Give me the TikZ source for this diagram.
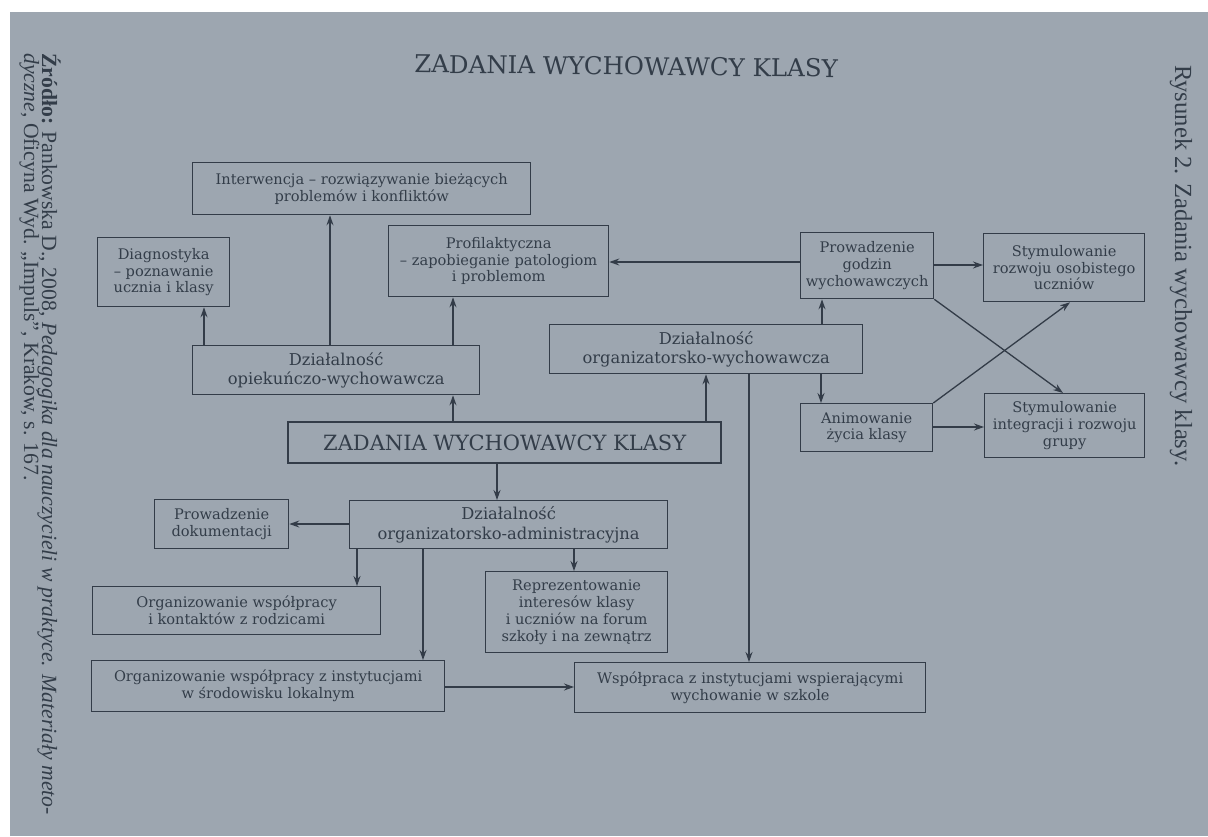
\documentclass[tikz,border=0pt]{standalone}
\usepackage{fontspec}
\setmainfont{DejaVu Serif}
\newfontfamily\sidefont{Liberation Serif}
\usetikzlibrary{arrows.meta}
\definecolor{pagec}{HTML}{9DA6B0}
\definecolor{linec}{HTML}{333C48}
\definecolor{txtc}{HTML}{333D49}
\tikzset{
  box/.style={draw=linec, line width=1.3pt, text=txtc, align=center, inner sep=0pt, anchor=north west,
    font=\fontsize{14.6}{16.8}\selectfont},
  bigbox/.style={box, font=\fontsize{16.3}{19.5}\selectfont},
  arr/.style={draw=linec, line width=1.3pt, -{Stealth[length=10pt,width=7pt]}},
  ln/.style={draw=linec, line width=1.3pt},
  side/.style={text=txtc, inner sep=0pt, rotate=-90, anchor=base west},
}
\begin{document}
\begin{tikzpicture}[x=1pt,y=-1pt]
\useasboundingbox (0,0) rectangle (1208,836);
\fill[white] (0,0) rectangle (1208,836);
\fill[pagec] (10,12) rectangle (1208,836);

% title
\node[text=txtc, inner sep=0pt, anchor=base, rotate=-0.6, font=\fontsize{24.5}{27}\selectfont] (title) at (626,75) {ZADANIA WYCHOWAWCY KLASY};

% side texts
\node[side, font=\sidefont\fontsize{21.7}{23}\selectfont] (src1) at (42,53) {\textbf{Źródło:} Pankowska D., 2008, \textit{Pedagogika dla nauczycieli w praktyce. Materiały meto-}};
\node[side, font=\sidefont\fontsize{21.7}{23}\selectfont] (src2) at (24,53) {\textit{dyczne}, Oficyna Wyd. „Impuls”, Kraków, s. 167.};
\node[side, font=\sidefont\fontsize{24.6}{27}\selectfont] (rys) at (1175,65) {Rysunek 2. Zadania wychowawcy klasy.};

% boxes
\node[box, minimum width=338pt, minimum height=52pt] (interw) at (192,162) {Interwencja – rozwiązywanie bieżących\\problemów i konfliktów};
\node[box, minimum width=132pt, minimum height=69pt] (diag) at (97,237) {Diagnostyka\\– poznawanie\\ucznia i klasy};
\node[box, minimum width=220pt, minimum height=71pt] (profil) at (388,225) {Profilaktyczna\\– zapobieganie patologiom\\i problemom};
\node[bigbox, minimum width=287pt, minimum height=49pt] (opiek) at (192,345) {Działalność\\opiekuńczo-wychowawcza};
\node[box, line width=2.4pt, minimum width=433pt, minimum height=41pt, font=\fontsize{21}{24}\selectfont] (zad) at (287,421) {ZADANIA WYCHOWAWCY KLASY};
\node[bigbox, minimum width=313pt, minimum height=49pt] (orgwych) at (549,324) {Działalność\\organizatorsko-wychowawcza};
\node[box, minimum width=133pt, minimum height=66pt] (prow) at (800,232) {Prowadzenie\\godzin\\wychowawczych};
\node[box, minimum width=132pt, minimum height=48pt] (anim) at (800,403) {Animowanie\\życia klasy};
\node[box, minimum width=161pt, minimum height=68pt] (stymroz) at (983,233) {Stymulowanie\\rozwoju osobistego\\uczniów};
\node[box, minimum width=160pt, minimum height=64pt] (stymint) at (984,393) {Stymulowanie\\integracji i rozwoju\\grupy};
\node[bigbox, minimum width=318pt, minimum height=48pt] (orgadm) at (349,500) {Działalność\\organizatorsko-administracyjna};
\node[box, minimum width=134pt, minimum height=49pt] (dokum) at (154,499) {Prowadzenie\\dokumentacji};
\node[box, minimum width=288pt, minimum height=48pt] (kontakt) at (92,586) {Organizowanie współpracy\\i kontaktów z rodzicami};
\node[box, minimum width=182pt, minimum height=81pt] (reprez) at (485,571) {Reprezentowanie\\interesów klasy\\i uczniów na forum\\szkoły i na zewnątrz};
\node[box, minimum width=353pt, minimum height=51pt] (instyt) at (91,660) {Organizowanie współpracy z instytucjami\\w środowisku lokalnym};
\node[box, minimum width=351pt, minimum height=50pt] (wspol) at (574,662) {Współpraca z instytucjami wspierającymi\\wychowanie w szkole};

% connectors
\draw[arr] (204,0 |- opiek.north) -- (204,0 |- diag.south);
\draw[arr] (330,0 |- opiek.north) -- (330,0 |- interw.south);
\draw[arr] (453,0 |- opiek.north) -- (453,0 |- profil.south);
\draw[arr] (453,0 |- zad.north) -- (453,0 |- opiek.south);
\draw[arr] (706,0 |- zad.north) -- (706,0 |- orgwych.south);
\draw[arr] (497,0 |- zad.south) -- (497,0 |- orgadm.north);
\draw[arr] (822,0 |- orgwych.north) -- (822,0 |- prow.south);
\draw[arr] (821,0 |- orgwych.south) -- (821,0 |- anim.north);
\draw[arr] (749,0 |- orgwych.south) -- (749,0 |- wspol.north);
\draw[arr] (prow.west |- 0,262) -- (profil.east |- 0,262);
\draw[arr] (prow.east |- 0,265) -- (stymroz.west |- 0,265);
\draw[arr] (prow.south east) -- (1063,0 |- stymint.north);
\draw[arr] (anim.north east) -- (1070,0 |- stymroz.south);
\draw[arr] (anim.east |- 0,427) -- (stymint.west |- 0,427);
\draw[arr] (orgadm.west |- 0,524) -- (dokum.east |- 0,524);
\draw[arr] (357,0 |- orgadm.south) -- (357,0 |- kontakt.north);
\draw[arr] (423,0 |- orgadm.south) -- (423,0 |- instyt.north);
\draw[arr] (574,0 |- orgadm.south) -- (574,0 |- reprez.north);
\draw[arr] (instyt.east |- 0,687) -- (wspol.west |- 0,687);
\end{tikzpicture}
\end{document}
